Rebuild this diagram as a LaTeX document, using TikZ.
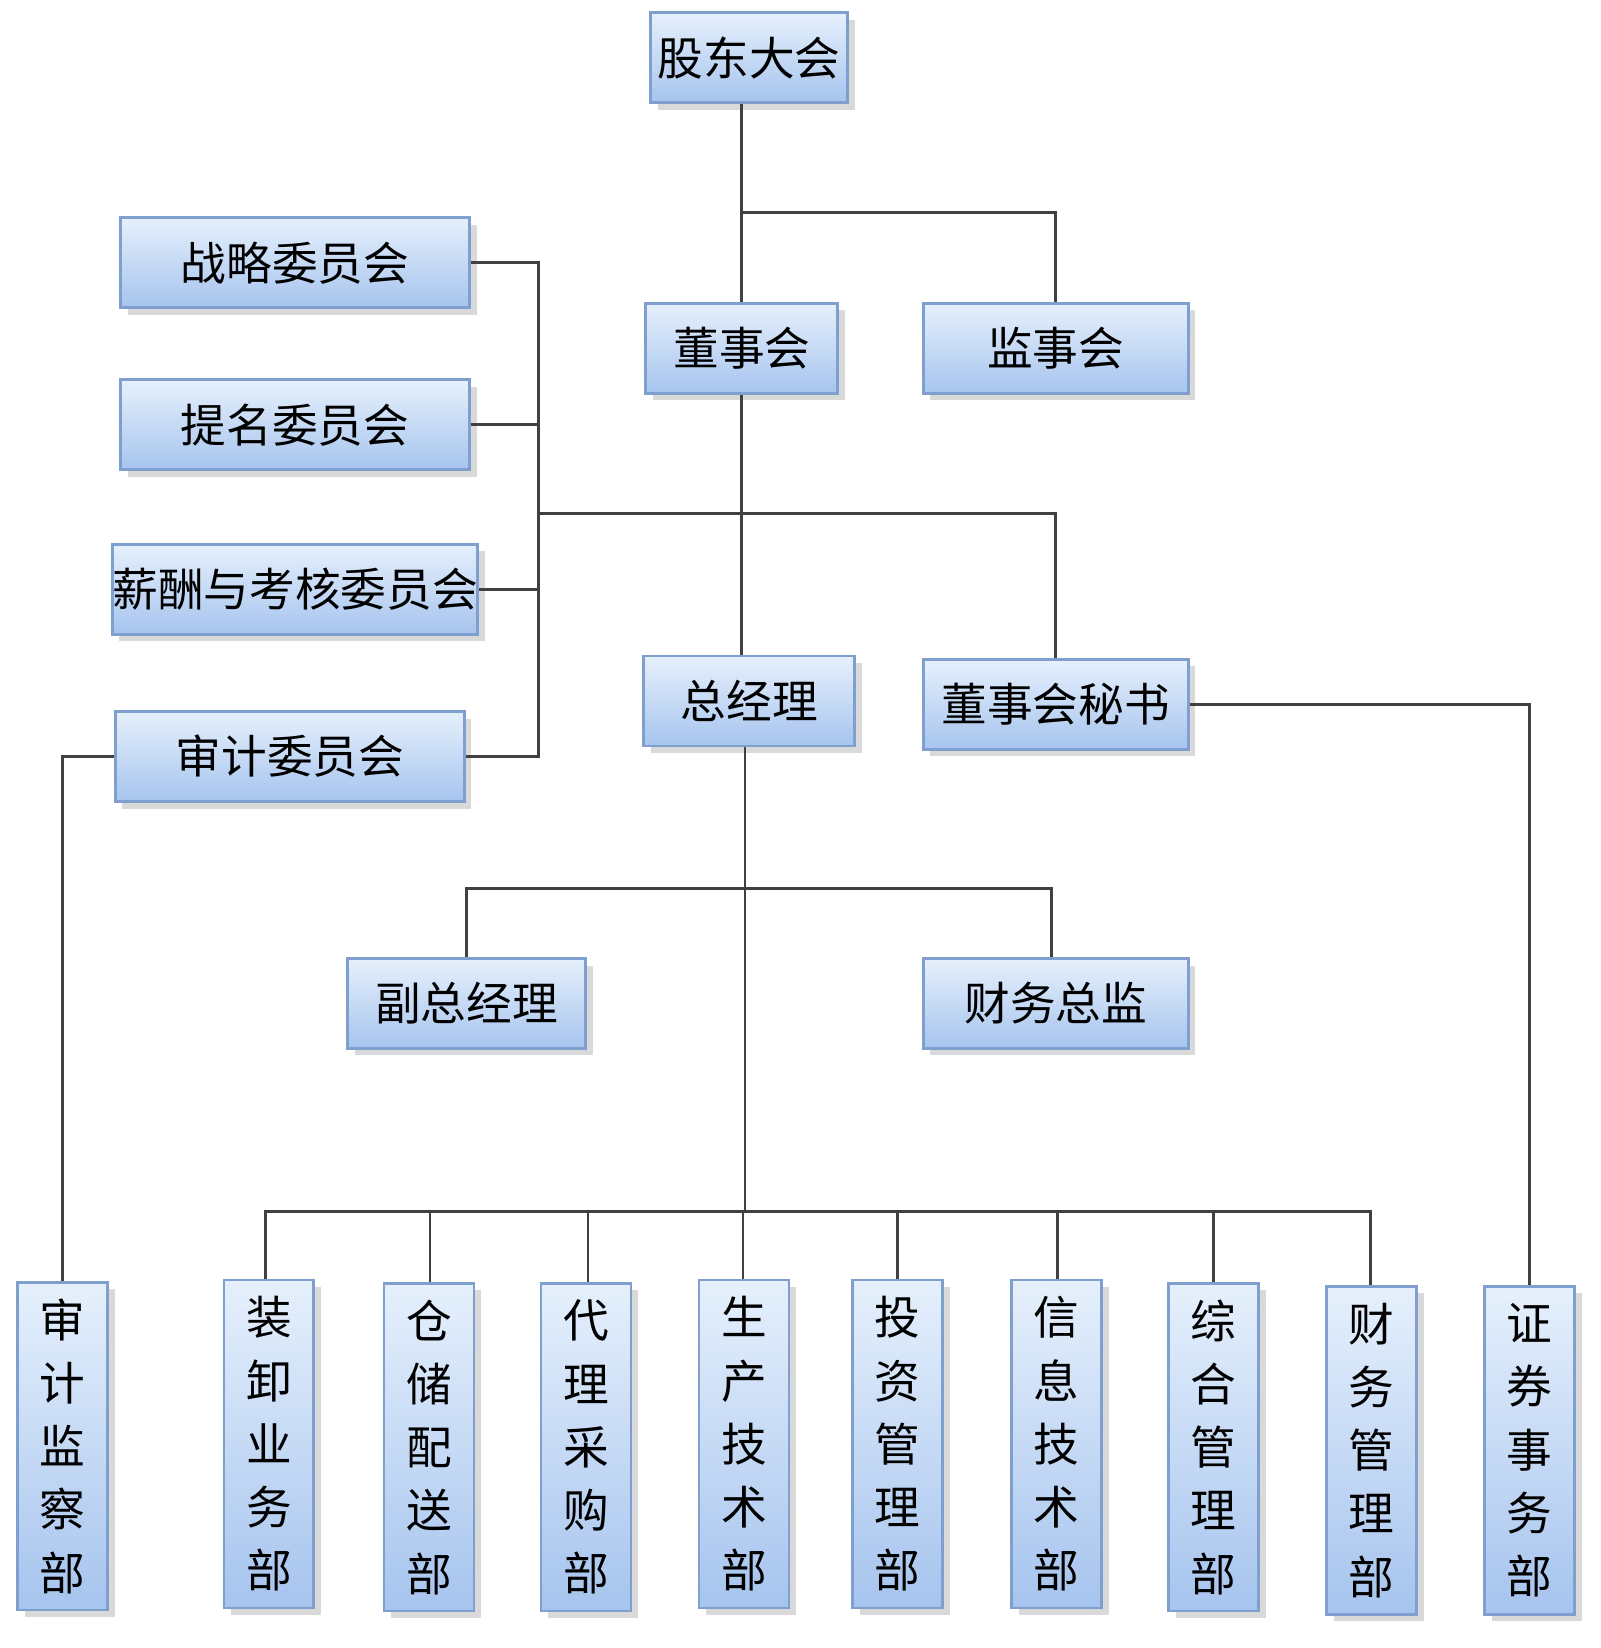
\documentclass[tikz,border=0pt]{standalone}
\usepackage{fontspec}
\setmainfont{Noto Sans CJK SC}
\usetikzlibrary{shadows}
\definecolor{boxtop}{HTML}{E6F0FC}
\definecolor{boxbot}{HTML}{A6C4EE}
\definecolor{boxline}{HTML}{7F9FCF}
\tikzset{
  box/.style={draw=boxline, thick, top color=boxtop, bottom color=boxbot,
    drop shadow={shadow xshift=2pt, shadow yshift=-2pt, opacity=0.3},
    minimum height=0.9cm, inner sep=0pt, font=\fontsize{13}{15}\selectfont},
  vbox/.style={box, minimum width=0.9cm, minimum height=3.28cm, align=center,
    font=\fontsize{13}{18}\selectfont},
  link/.style={thick, black!75}
}
\begin{document}
\begin{tikzpicture}[x=0.01046cm, y=-0.01046cm]
  \useasboundingbox (0,0) rectangle (1530,1575);
  % top
  \node[box, minimum width=1.97cm] (gudong) at (716,55) {股东大会};
  \node[box, minimum width=1.92cm] (dongshi) at (709,333) {董事会};
  \node[box, minimum width=2.65cm] (jianshi) at (1009,333) {监事会};
  % committees
  \node[box, minimum width=3.49cm] (zhanlue) at (282,251) {战略委员会};
  \node[box, minimum width=3.49cm] (timing) at (282,406) {提名委员会};
  \node[box, minimum width=3.49cm] (xinchou) at (282,563) {薪酬与考核委员会};
  \node[box, minimum width=3.49cm] (shenji) at (277,723) {审计委员会};
  % managers
  \node[box, minimum width=2.11cm] (zongjl) at (716,670) {总经理};
  \node[box, minimum width=2.65cm] (mishu) at (1009,673) {董事会秘书};
  \node[box, minimum width=2.38cm] (fuzong) at (446,959) {副总经理};
  \node[box, minimum width=2.65cm] (caiwu) at (1009,959) {财务总监};
  % departments
  \node[vbox] (sjb) at (60,1382) {审\\计\\监\\察\\部};
  \node[vbox] (zxb) at (257,1380) {装\\卸\\业\\务\\部};
  \node[vbox] (ccb) at (410,1383) {仓\\储\\配\\送\\部};
  \node[vbox] (dlb) at (560,1383) {代\\理\\采\\购\\部};
  \node[vbox] (scb) at (711,1380) {生\\产\\技\\术\\部};
  \node[vbox] (tzb) at (858,1380) {投\\资\\管\\理\\部};
  \node[vbox] (xxb) at (1010,1380) {信\\息\\技\\术\\部};
  \node[vbox] (zhb) at (1160,1383) {综\\合\\管\\理\\部};
  \node[vbox] (cwb) at (1311,1386) {财\\务\\管\\理\\部};
  \node[vbox] (zqb) at (1462,1386) {证\\券\\事\\务\\部};

  % lines
  \draw[link] (gudong.south -| dongshi) -- (dongshi.north);
  \draw[link] (709,203) -| (jianshi.north);
  \draw[link] (dongshi.south) -- (zongjl.north -| dongshi);
  \draw[link] (515,491) -| (mishu.north);
  \draw[link] (zhanlue.east) -| (515,723) -- (shenji.east);
  \draw[link] (timing.east) -- (515,406);
  \draw[link] (xinchou.east) -- (515,563);
  \draw[link] (shenji.west) -| (sjb.north);
  \draw[link] (mishu.east) -| (zqb.north);
  \draw[link] (zongjl.south -| 712,0) -- (712,1158);
  \draw[link] (fuzong.north) |- (1005,849) -- (caiwu.north -| 1005,0);
  \draw[link] (zxb.north -| 254,0) |- (1310,1158) -- (cwb.north -| 1310,0);
  \draw[link] (ccb.north -| 411,0) -- (411,1158);
  \draw[link] (dlb.north -| 562,0) -- (562,1158);
  \draw[link] (scb.north -| 710,0) -- (710,1158);
  \draw[link] (tzb.north) -- (858,1158);
  \draw[link] (xxb.north -| 1011,0) -- (1011,1158);
  \draw[link] (zhb.north) -- (1160,1158);
\end{tikzpicture}
\end{document}
